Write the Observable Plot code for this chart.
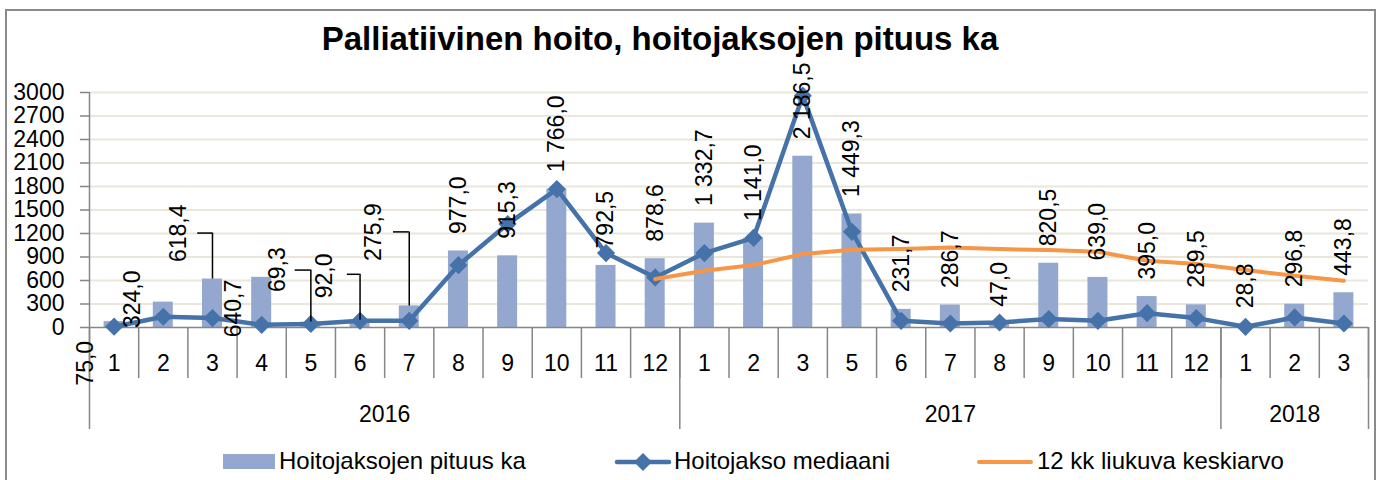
<!DOCTYPE html>
<html><head><meta charset="utf-8">
<script src="https://cdn.jsdelivr.net/npm/d3@7"></script>
<script src="https://cdn.jsdelivr.net/npm/@observablehq/plot@0.6"></script>
<style>
body{margin:0;background:#fff;}
#wrap{position:relative;width:1381px;height:480px;overflow:hidden;font-family:"Liberation Sans",Arial,sans-serif;color:#000;}
#border{position:absolute;left:5px;top:9px;width:1371px;height:500px;border:2px solid #8a8a8a;box-sizing:border-box;}
#title{position:absolute;left:160px;width:1000px;top:22px;text-align:center;font-weight:bold;font-size:33px;line-height:33px;white-space:nowrap;}
#chart{position:absolute;left:0;top:85px;}
.lg{position:absolute;font-size:24px;line-height:24px;top:449px;white-space:nowrap;}
.mk{position:absolute;}
</style>
</head><body>
<div id="wrap">
  <div id="border"></div>
  <div id="title">Palliatiivinen hoito, hoitojaksojen pituus ka</div>
  <div id="chart"></div>
  <div id="legend"></div>
</div>
<script>
// ---- data ----
const monthLabels = ["1","2","3","4","5","6","7","8","9","10","11","12",
                     "1","2","3","5","6","7","8","9","10","11","12",
                     "1","2","3"];
const yearLabels = ["2016","2017","2018"];
const yearCounts = [12, 11, 3];
const pituusKa = [75.0, 324.0, 618.4, 640.7, 69.3, 92.0, 275.9, 977.0, 915.3, 1766.0, 792.5, 878.6,
                  1332.7, 1141.0, 2186.5, 1449.3, 231.7, 286.7, 47.0, 820.5, 639.0, 395.0, 289.5,
                  28.8, 296.8, 443.8];
const mediaani = [10, 137, 120, 34, 45, 85, 85, 795, 1320, 1767, 950, 639,
                  950, 1145, 2960, 1222, 85, 51, 64, 107, 85, 183, 120,
                  9, 128, 51];
const liukuva = [null, null, null, null, null, null, null, null, null, null, null, 618,
                 724, 797, 937, 992, 1001, 1022, 1001, 988, 967, 852, 810,
                 733, 660, 596];
const yTicks = [0, 300, 600, 900, 1200, 1500, 1800, 2100, 2400, 2700, 3000];
const seriesNames = ["Hoitojaksojen pituus ka", "Hoitojakso mediaani", "12 kk liukuva keskiarvo"];

// ---- styling / layout (not data) ----
const C_BAR = "#94A8CF", C_LINE = "#4572A8", C_AVG = "#F79646", C_AXIS = "#868686", C_GRID = "#EAE6D9";
// manually moved data labels: index -> [dx, dy] in px
const labelNudges = {0: [-28, 64], 1: [-31, 26], 2: [-34, -17], 3: [-28, 60], 4: [-33, -30], 5: [-35, -22], 6: [-36, -45]};
// leader lines: index, rise (px), run to the left (px)
const leaders = [[2, 46, 14], [4, 52, 15], [5, 46, 12], [6, 74, 15]];

const rows = monthLabels.map((m, i) => ({i, month: m, bar: pituusKa[i], med: mediaani[i], avg: liukuva[i]}));
const yearBounds = [0];
yearCounts.forEach(c => yearBounds.push(yearBounds[yearBounds.length - 1] + c));
const yearCenters = yearCounts.map((c, k) => yearBounds[k] + c / 2);
const fmt = d3.formatLocale({decimal: ",", thousands: "\u00a0", grouping: [3], currency: ["", ""]}).format(",.1f");
const cx = d => d.i + 0.5;

const textOpts = {x: cx, y: "bar", text: d => fmt(d.bar), rotate: -90, textAnchor: "start", fill: "#000", fontSize: 23};
const marks = [
  Plot.gridY(yTicks.slice(1), {stroke: C_GRID, strokeOpacity: 1, strokeWidth: 2}),
  Plot.rect(rows, {x1: "i", x2: d => d.i + 1, y1: () => 0, y2: "bar", insetLeft: 14.6, insetRight: 14.6, fill: C_BAR}),
  Plot.axisY(yTicks, {tickSize: 9, tickPadding: 16, stroke: C_AXIS, strokeWidth: 1.5, fill: "#000", fontSize: 23, tickFormat: d => String(d), label: null}),
  Plot.ruleX([0], {stroke: C_AXIS, strokeWidth: 1.5}),
  Plot.ruleY([0], {stroke: C_AXIS, strokeWidth: 1.5}),
  Plot.axisX(d3.range(monthLabels.length + 1), {tickSize: 51, stroke: C_AXIS, strokeWidth: 1.5, fill: "none", label: null}),
  Plot.axisX(yearBounds, {tickSize: 102, stroke: C_AXIS, strokeWidth: 1.5, fill: "none", label: null}),
  Plot.axisX(rows.map(cx), {tickSize: 0, tickPadding: 27, fontSize: 23, fill: "#000", tickFormat: v => monthLabels[Math.floor(v)], label: null}),
  Plot.axisX(yearCenters, {tickSize: 0, tickPadding: 78, fontSize: 23, fill: "#000", tickFormat: v => yearLabels[yearCenters.indexOf(v)], label: null}),
  Plot.line(rows, {x: cx, y: "med", stroke: C_LINE, strokeWidth: 4.5, strokeLinejoin: "round"}),
  Plot.dot(rows, {x: cx, y: "med", symbol: "diamond2", r: 8.2, fill: C_LINE, stroke: "none"}),
  Plot.line(rows.filter(d => d.avg != null), {x: cx, y: "avg", stroke: C_AVG, strokeWidth: 4, strokeLinecap: "round", strokeLinejoin: "round"}),
  Plot.text(rows.filter(d => !(d.i in labelNudges)), {...textOpts, dy: -17})
];
Object.entries(labelNudges).forEach(([k, [dx, dy]]) => {
  marks.push(Plot.text([rows[+k]], {...textOpts, dx, dy}));
});
leaders.forEach(([k, rise, run]) => {
  const d = [rows[k]];
  marks.push(Plot.ruleX(d, {x: cx, y1: "bar", y2: "bar", insetBottom: rise, stroke: "#000", strokeWidth: 1.5}));
  marks.push(Plot.ruleY(d, {y: "bar", x1: cx, x2: cx, insetLeft: -run - 0.75, dy: -rise, stroke: "#000", strokeWidth: 1.5}));
});

const chart = Plot.plot({
  width: 1381, height: 355,
  marginLeft: 89, marginRight: 13, marginTop: 7, marginBottom: 113,
  style: {overflow: "visible", fontFamily: "'Liberation Sans', Arial, sans-serif", fontSize: "23px", color: "#000", background: "transparent"},
  x: {type: "linear", domain: [0, monthLabels.length]},
  y: {domain: [0, 3000], label: null},
  marks
});
document.getElementById("chart").appendChild(chart);

// ---- legend ----
const lg = document.getElementById("legend");
lg.innerHTML = `
  <div class="mk" style="left:223px;top:454px;width:52px;height:15px;background:${C_BAR}"></div>
  <div class="lg" style="left:279px">${seriesNames[0]}</div>
  <svg class="mk" style="left:614px;top:450px" width="58" height="24">
    <line x1="3" y1="12" x2="55" y2="12" stroke="${C_LINE}" stroke-width="4.5" stroke-linecap="round"/>
    <path d="M29,3L38,12L29,21L20,12Z" fill="${C_LINE}"/>
  </svg>
  <div class="lg" style="left:674px">${seriesNames[1]}</div>
  <svg class="mk" style="left:976px;top:450px" width="58" height="24">
    <line x1="3" y1="12" x2="55" y2="12" stroke="${C_AVG}" stroke-width="4" stroke-linecap="round"/>
  </svg>
  <div class="lg" style="left:1037px">${seriesNames[2]}</div>`;
</script>
</body></html>
